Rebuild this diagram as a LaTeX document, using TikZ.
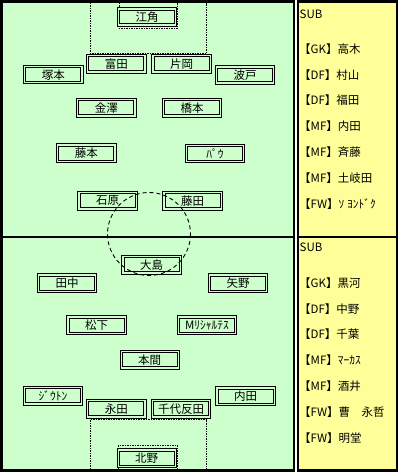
\documentclass[tikz,border=0pt]{standalone}
\usepackage{fontspec}
\setmainfont{Noto Sans CJK JP}
\definecolor{pitch}{HTML}{CCFFCC}
\definecolor{subbg}{HTML}{FFFF99}
\begin{document}
\begin{tikzpicture}[x=1pt,y=-1pt,
  player/.style={draw=black, line width=0.9pt, fill=pitch,
    minimum width=59.5pt, minimum height=18.5pt, inner sep=0pt,
    font=\fontsize{11.5}{12}\selectfont,
    path picture={\draw[black, line width=0.9pt]
      ([shift={(2.3pt,-2.3pt)}]path picture bounding box.north west) rectangle
      ([shift={(-2.3pt,2.3pt)}]path picture bounding box.south east);}},
  subtxt/.style={anchor=west, inner sep=0pt, font=\fontsize{11.5}{12}\selectfont},
  fieldline/.style={black, line width=0.8pt, dash pattern=on 1.5pt off 1pt},
  circline/.style={black, line width=0.9pt, dash pattern=on 4pt off 3pt}]
\useasboundingbox (0,0) rectangle (401,476);
\fill[white] (0,0) rectangle (401,476);
% tables
\fill[black] (0,0) rectangle (294.5,471.5);
\fill[pitch] (3,3) rectangle (292.5,469);
\fill[black] (296.5,0) rectangle (398,471.5);
\fill[subbg] (298.5,3) rectangle (396,469);
\fill[black] (3,235.5) rectangle (292.5,237.5);
\fill[black] (298.5,235.5) rectangle (396,237.5);
% field markings
\draw[fieldline] (90,3) -- (90,53.5) -- (206.7,53.5) -- (206.7,3);
\draw[fieldline] (119.3,3) -- (119.3,28.7) -- (177.3,28.7) -- (177.3,3);
\draw[fieldline] (90,469) -- (90,419.5) -- (206.7,419.5) -- (206.7,469);
\draw[fieldline] (118.3,469) -- (118.3,445.3) -- (177.3,445.3) -- (177.3,469);
% top team
\node[player] (ezumi) at (147,17) {江角};
\node[player] (tomita) at (116.3,63.8) {富田};
\node[player] (kataoka) at (181.5,63.8) {片岡};
\node[player] (tsukamoto) at (53.3,74.7) {塚本};
\node[player] (hato) at (245,75) {波戸};
\node[player] (kanazawa) at (106.3,107.8) {金澤};
\node[player] (hashimoto) at (192,107.8) {橋本};
\node[player] (fujimoto) at (86.3,153) {藤本};
\node[player] (pau) at (215,153.5) {ﾊﾟｳ};
\node[player] (ishihara) at (107.5,200.8) {石原};
\node[player] (fujita) at (192.5,200.8) {藤田};
% bottom team
\node[player] (oshima) at (151.5,264.8) {大島};
\node[player] (tanaka) at (67,283) {田中};
\node[player] (yano) at (238,283) {矢野};
\node[player] (matsushita) at (96.5,325) {松下};
\node[player] (marcio) at (207,325) {Mﾘｼｬﾙﾃｽ};
\node[player] (honma) at (149.7,359.7) {本間};
\node[player] (jiouton) at (53,395.8) {ｼﾞｳﾄﾝ};
\node[player] (nagata) at (116.3,408.7) {永田};
\node[player] (chiyotanda) at (181,408.7) {千代反田};
\node[player] (uchida) at (245.5,396) {内田};
\node[player] (kitano) at (146.7,458) {北野};
% centre circle
\draw[circline] (149,234) circle[radius=41.5];
% substitutes top
\node[subtxt] (subA) at (299.5,14.2) {SUB};
\node[subtxt] (a1) at (299,49) {【GK】高木};
\node[subtxt] (a2) at (299,74.8) {【DF】村山};
\node[subtxt] (a3) at (299,100.6) {【DF】福田};
\node[subtxt] (a4) at (299,126.4) {【MF】内田};
\node[subtxt] (a5) at (299,152.2) {【MF】斉藤};
\node[subtxt] (a6) at (299,178) {【MF】土岐田};
\node[subtxt] (a7) at (299,203.8) {【FW】ｿ ﾖﾝﾄﾞｸ};
% substitutes bottom
\node[subtxt] (subB) at (299.5,247) {SUB};
\node[subtxt] (b1) at (299,283) {【GK】黒河};
\node[subtxt] (b2) at (299,308.8) {【DF】中野};
\node[subtxt] (b3) at (299,334.6) {【DF】千葉};
\node[subtxt] (b4) at (299,360.4) {【MF】ﾏｰｶｽ};
\node[subtxt] (b5) at (299,386.2) {【MF】酒井};
\node[subtxt] (b6) at (299,412) {【FW】曹　永哲};
\node[subtxt] (b7) at (299,437.8) {【FW】明堂};
\end{tikzpicture}
\end{document}
